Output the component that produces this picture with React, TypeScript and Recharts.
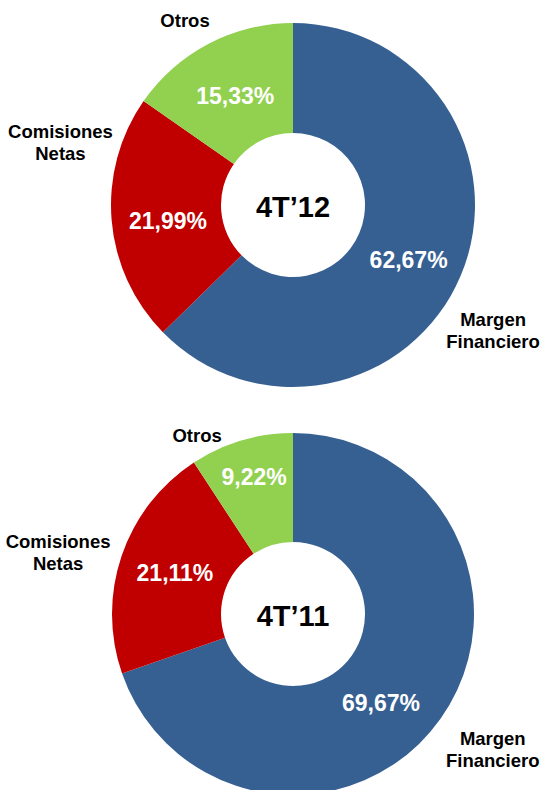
import { PieChart, Pie, Cell } from "recharts";

// categorias y valores (%)
const categories = ["Margen Financiero", "Comisiones Netas", "Otros"];
const nameLines = [["Margen", "Financiero"], ["Comisiones", "Netas"], ["Otros"]];
const values4T12 = [62.67, 21.99, 15.33];
const values4T11 = [69.67, 21.11, 9.22];
const periods = ["4T\u201912", "4T\u201911"];

const colors = ["#376092", "#C00000", "#92D050"];
const FONT = "'Liberation Sans', Arial, sans-serif";
const RAD = Math.PI / 180;

// ajuste fino de etiquetas (delta de angulo, radio) por grafico
const pctLayout = [
  { dA: [-2.6, 2.5, 0.4], r: [128, 126, 123] },
  { dA: [-9.9, -0.4, -0.7], r: [125, 125, 142] },
];
const nameLayout = [
  { dA: [-9.2, -20, 2.7], r: [236, 241, 214] },
  { dA: [1.4, 4, 11.6], r: [241, 243, 203] },
];
const centerY = [205, 204];

const fmt = (v: number) => v.toFixed(2).replace(".", ",") + "%";

const Donut = ({ values, period, k }: { values: number[]; period: string; k: number }) => {
  const data = categories.map((c, i) => ({ name: c, value: values[i] }));

  const renderLabel = (p: any) => {
    const { cx, cy, midAngle, index, value } = p;
    const pa = midAngle + pctLayout[k].dA[index];
    const pr = pctLayout[k].r[index];
    const px = cx + pr * Math.cos(-pa * RAD);
    const py = cy + pr * Math.sin(-pa * RAD);
    const na = midAngle + nameLayout[k].dA[index];
    const nr = nameLayout[k].r[index];
    const nx = cx + nr * Math.cos(-na * RAD);
    const ny = cy + nr * Math.sin(-na * RAD);
    const lines = nameLines[index];
    return (
      <g>
        <text x={px} y={py} fill="#fff" fontSize={23} fontWeight="bold" fontFamily={FONT}
          textAnchor="middle" dominantBaseline="central">
          {fmt(value)}
        </text>
        <text x={nx} y={ny} fill="#000" fontSize={18.5} fontWeight="bold" fontFamily={FONT}
          textAnchor="middle" dominantBaseline="central">
          {lines.map((l, j) => (
            <tspan key={j} x={nx} dy={j === 0 ? -(lines.length - 1) * 11 : 22}>{l}</tspan>
          ))}
        </text>
      </g>
    );
  };

  return (
    <PieChart width={544} height={410} margin={{ top: 0, right: 0, bottom: 0, left: 0 }}>
      <Pie
        data={data}
        dataKey="value"
        cx={293}
        cy={centerY[k]}
        innerRadius={72}
        outerRadius={182 - k}
        startAngle={90}
        endAngle={-270}
        stroke="none"
        label={renderLabel}
        labelLine={false}
        isAnimationActive={false}
      >
        {data.map((_, i) => (
          <Cell key={i} fill={colors[i]} />
        ))}
      </Pie>
      <text x={293} y={centerY[k] + 2} fontSize={29} fontWeight="bold" fontFamily={FONT}
        textAnchor="middle" dominantBaseline="central" fill="#000">
        {period}
      </text>
    </PieChart>
  );
};

export default function App() {
  return (
    <div style={{ position: "absolute", left: 0, top: 0, width: 544, height: 790, background: "#fff", overflow: "hidden" }}>
      <Donut values={values4T12} period={periods[0]} k={0} />
      <div style={{ position: "absolute", left: 0, top: 410 }}>
        <Donut values={values4T11} period={periods[1]} k={1} />
      </div>
    </div>
  );
}
